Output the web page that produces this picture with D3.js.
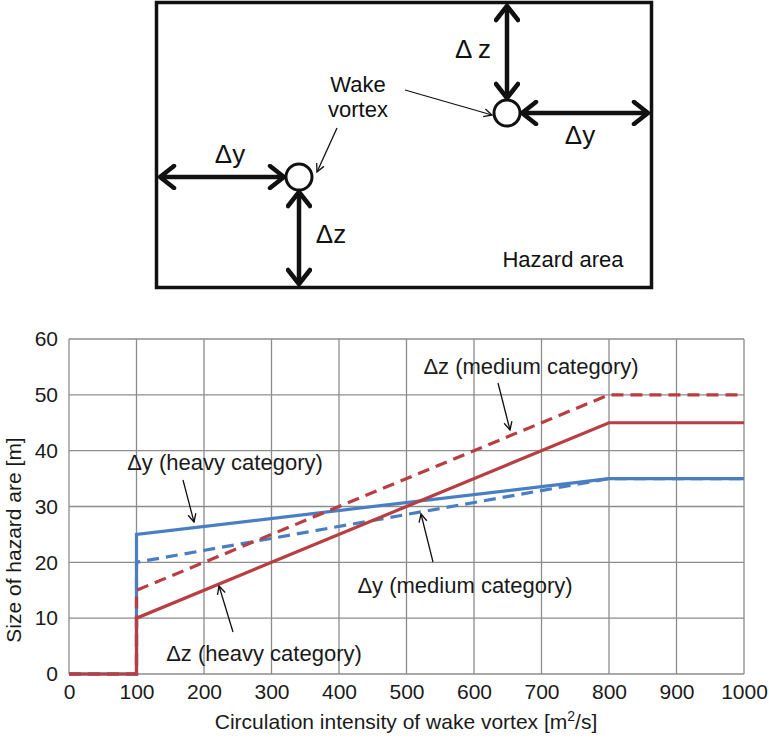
<!DOCTYPE html>
<html>
<head>
<meta charset="utf-8">
<script src="https://cdn.jsdelivr.net/npm/d3@7"></script>
<style>
  body { margin: 0; background: #fff; }
  svg { font-family: "Liberation Sans", Arial, sans-serif; }
</style>
</head>
<body>
<div id="chart"></div>
<script>
// circulation intensity [m2/s]
const circulation = [0, 100, 100, 800, 1000];
const circulationMedium = [0, 100, 100, 800, 1000];

// size of hazard area [m]
const dyHeavy = [0, 0, 25, 35, 35];
const dyMedium = [0, 0, 20, 35, 35];
const dzMedium = [0, 0, 15, 50, 50];
const dzHeavy = [0, 0, 10, 45, 45];

const xTicks = [0, 100, 200, 300, 400, 500, 600, 700, 800, 900, 1000];
const yTicks = [0, 10, 20, 30, 40, 50, 60];

const blue = '#4a7ec2';
const red = '#b83e42';

const width = 769;
const height = 738;

const svg = d3.select('#chart')
  .append('svg')
  .attr('width', width)
  .attr('height', height);

const defs = svg.append('defs');
defs.append('marker')
  .attr('id', 'thin')
  .attr('viewBox', '0 0 10 10')
  .attr('refX', 9)
  .attr('refY', 5)
  .attr('markerWidth', 10)
  .attr('markerHeight', 10)
  .attr('markerUnits', 'userSpaceOnUse')
  .attr('orient', 'auto')
  .append('path')
  .attr('d', 'M1,1 L9,5 L1,9')
  .attr('fill', 'none')
  .attr('stroke', '#111')
  .attr('stroke-width', 1.3);

defs.append('marker')
  .attr('id', 'thick')
  .attr('viewBox', '0 0 26 26')
  .attr('refX', 21)
  .attr('refY', 13)
  .attr('markerWidth', 26)
  .attr('markerHeight', 26)
  .attr('markerUnits', 'userSpaceOnUse')
  .attr('orient', 'auto-start-reverse')
  .append('path')
  .attr('d', 'M7,2 L21,13 L7,24')
  .attr('fill', 'none')
  .attr('stroke', '#111')
  .attr('stroke-width', 4.5)
  .attr('stroke-linecap', 'round')
  .attr('stroke-linejoin', 'round');

// ---------- schematic of the hazard area ----------
const diag = svg.append('g');

diag.append('rect')
  .attr('x', 156.5)
  .attr('y', 2.5)
  .attr('width', 495)
  .attr('height', 285)
  .attr('fill', 'none')
  .attr('stroke', '#111')
  .attr('stroke-width', 3.5);

const vortices = [
  { cx: 299, cy: 177, r: 13 },
  { cx: 507, cy: 113, r: 13 },
];

const thickArrows = [
  [160, 177, 284, 177],
  [299, 192, 299, 284],
  [507, 6, 507, 98],
  [522, 113, 648, 113],
];

diag.selectAll('line.thick')
  .data(thickArrows)
  .join('line')
  .attr('class', 'thick')
  .attr('x1', (d) => d[0])
  .attr('y1', (d) => d[1])
  .attr('x2', (d) => d[2])
  .attr('y2', (d) => d[3])
  .attr('stroke', '#111')
  .attr('stroke-width', 4.5)
  .attr('marker-start', 'url(#thick)')
  .attr('marker-end', 'url(#thick)');

diag.selectAll('circle')
  .data(vortices)
  .join('circle')
  .attr('cx', (d) => d.cx)
  .attr('cy', (d) => d.cy)
  .attr('r', (d) => d.r)
  .attr('fill', '#fff')
  .attr('stroke', '#111')
  .attr('stroke-width', 3);

diag.append('line')
  .attr('x1', 405).attr('y1', 90)
  .attr('x2', 492).attr('y2', 115)
  .attr('stroke', '#111')
  .attr('stroke-width', 1.3)
  .attr('marker-end', 'url(#thin)');
diag.append('line')
  .attr('x1', 337).attr('y1', 128)
  .attr('x2', 317).attr('y2', 172)
  .attr('stroke', '#111')
  .attr('stroke-width', 1.3)
  .attr('marker-end', 'url(#thin)');

const diagLabels = [
  { x: 230, y: 163, t: 'Δy', s: 26 },
  { x: 331, y: 243, t: 'Δz', s: 26 },
  { x: 473, y: 58, t: 'Δ z', s: 26 },
  { x: 580, y: 144, t: 'Δy', s: 26 },
  { x: 358, y: 92, t: 'Wake', s: 22 },
  { x: 358, y: 117, t: 'vortex', s: 22 },
  { x: 563, y: 267, t: 'Hazard area', s: 22 },
];
diag.selectAll('text')
  .data(diagLabels)
  .join('text')
  .attr('x', (d) => d.x)
  .attr('y', (d) => d.y)
  .attr('text-anchor', 'middle')
  .style('font-size', (d) => d.s + 'px')
  .attr('fill', '#111')
  .text((d) => d.t);

// ---------- line chart ----------
const x = d3.scaleLinear().domain([0, 1000]).range([69, 744]);
const y = d3.scaleLinear().domain([0, 60]).range([674, 339]);

const grid = svg.append('g');
grid.selectAll('line.v')
  .data(xTicks)
  .join('line')
  .attr('class', 'v')
  .attr('x1', (d) => x(d))
  .attr('x2', (d) => x(d))
  .attr('y1', y(0))
  .attr('y2', y(60))
  .attr('stroke', '#8c8c8c')
  .attr('stroke-width', 1.3);
grid.selectAll('line.h')
  .data(yTicks)
  .join('line')
  .attr('class', 'h')
  .attr('x1', x(0))
  .attr('x2', x(1000))
  .attr('y1', (d) => y(d))
  .attr('y2', (d) => y(d))
  .attr('stroke', '#8c8c8c')
  .attr('stroke-width', 1.3);

svg.append('g')
  .attr('transform', `translate(0,${y(0)})`)
  .call(d3.axisBottom(x).tickValues(xTicks).tickSize(0).tickPadding(10).tickFormat(d3.format('d')))
  .call((g) => g.select('.domain').remove())
  .selectAll('text')
  .attr('fill', '#1a1a1a')
  .style('font-size', '21px')
  .style('font-family', '"Liberation Sans", Arial, sans-serif');

svg.append('g')
  .attr('transform', `translate(${x(0)},0)`)
  .call(d3.axisLeft(y).tickValues(yTicks).tickSize(0).tickPadding(11).tickFormat(d3.format('d')))
  .call((g) => g.select('.domain').remove())
  .selectAll('text')
  .attr('fill', '#1a1a1a')
  .style('font-size', '21px')
  .style('font-family', '"Liberation Sans", Arial, sans-serif');

const series = [
  { xs: circulation, ys: dyHeavy, color: blue, dash: null },
  { xs: circulationMedium, ys: dyMedium, color: blue, dash: '12,7' },
  { xs: circulationMedium, ys: dzMedium, color: red, dash: '12,7' },
  { xs: circulation, ys: dzHeavy, color: red, dash: null },
];

const line = d3.line()
  .x((d) => x(d[0]))
  .y((d) => y(d[1]));

svg.append('g')
  .selectAll('path')
  .data(series)
  .join('path')
  .attr('d', (s) => line(s.xs.map((v, i) => [v, s.ys[i]])))
  .attr('fill', 'none')
  .attr('stroke', (s) => s.color)
  .attr('stroke-width', 3.2)
  .attr('stroke-dasharray', (s) => s.dash);

// annotations
const notes = [
  { t: 'Δy (heavy category)', tx: 225, ty: 470, x1: 183, y1: 480, x2: 194, y2: 522 },
  { t: 'Δz (medium category)', tx: 531, ty: 374, x1: 498, y1: 383, x2: 510, y2: 430 },
  { t: 'Δy (medium category)', tx: 465, ty: 593, x1: 433, y1: 562, x2: 421, y2: 514 },
  { t: 'Δz (heavy category)', tx: 264, ty: 661, x1: 233, y1: 632, x2: 219, y2: 586 },
];
const ann = svg.append('g');
ann.selectAll('line')
  .data(notes)
  .join('line')
  .attr('x1', (d) => d.x1)
  .attr('y1', (d) => d.y1)
  .attr('x2', (d) => d.x2)
  .attr('y2', (d) => d.y2)
  .attr('stroke', '#111')
  .attr('stroke-width', 1.3)
  .attr('marker-end', 'url(#thin)');
ann.selectAll('text')
  .data(notes)
  .join('text')
  .attr('x', (d) => d.tx)
  .attr('y', (d) => d.ty)
  .attr('text-anchor', 'middle')
  .attr('fill', '#1a1a1a')
  .style('font-size', '22px')
  .text((d) => d.t);

// axis titles
svg.append('text')
  .attr('transform', 'translate(21,540) rotate(-90)')
  .attr('text-anchor', 'middle')
  .attr('fill', '#1a1a1a')
  .style('font-size', '21px')
  .text('Size of hazard are [m]');

const xt = svg.append('text')
  .attr('x', 406)
  .attr('y', 729)
  .attr('text-anchor', 'middle')
  .attr('fill', '#1a1a1a')
  .style('font-size', '21px');
xt.append('tspan').text('Circulation intensity of wake vortex [m');
xt.append('tspan').attr('dy', -8).style('font-size', '14px').text('2');
xt.append('tspan').attr('dy', 8).text('/s]');
</script>
</body>
</html>
